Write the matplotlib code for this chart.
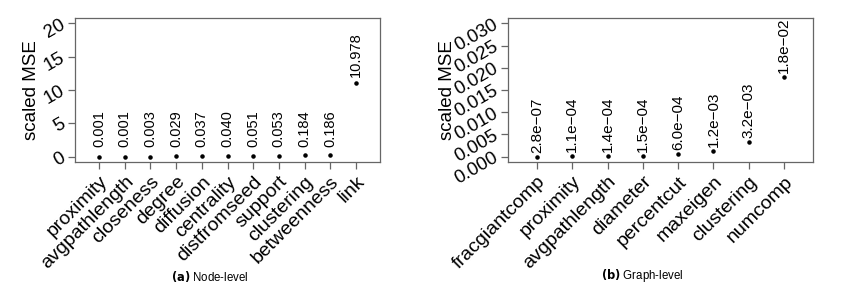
import numpy as np
import matplotlib.pyplot as plt

plt.rcParams['font.family'] = ['Liberation Sans', 'DejaVu Sans']

# Node-level data
node_names = ["proximity", "avgpathlength", "closeness", "degree", "diffusion",
              "centrality", "distfromseed", "support", "clustering",
              "betweenness", "link"]
node_mse = [0.001, 0.001, 0.003, 0.029, 0.037, 0.040, 0.051, 0.053,
            0.184, 0.186, 10.978]
node_labels = ["0.001", "0.001", "0.003", "0.029", "0.037", "0.040", "0.051",
               "0.053", "0.184", "0.186", "10.978"]
node_yticks = [0, 5, 10, 15, 20]

# Graph-level data
graph_names = ["fracgiantcomp", "proximity", "avgpathlength", "diameter",
               "percentcut", "maxeigen", "clustering", "numcomp"]
graph_mse = [2.8e-07, 1.1e-04, 1.4e-04, 1.5e-04, 6.0e-04, 1.2e-03, 3.2e-03, 1.8e-02]
graph_labels = ["2.8e\u221207", "1.1e\u221204", "1.4e\u221204", "1.5e\u221204",
                "6.0e\u221204", "1.2e\u221203", "3.2e\u221203", "1.8e\u221202"]
graph_yticks = [0.000, 0.005, 0.010, 0.015, 0.020, 0.025, 0.030]

fig = plt.figure(figsize=(8.53, 2.88), dpi=100)
W, H = 853, 288
ax1 = fig.add_axes([75 / W, 1 - 162 / H, 305 / W, 144 / H])
ax2 = fig.add_axes([508 / W, 1 - 162 / H, 305 / W, 144 / H])

edge = "#666666"


def setup(ax, names, yticks, ylabels):
    n = len(names)
    x = np.arange(1, n + 1)
    lo, hi = 0.5, n + 0.5
    pad = (hi - lo) * 0.04
    ax.set_xlim(lo - pad, hi + pad)
    yr = yticks[-1] - yticks[0]
    ax.set_ylim(yticks[0] - yr * 0.04, yticks[-1] + yr * 0.04)
    for s in ax.spines.values():
        s.set_color(edge)
        s.set_linewidth(0.9)
    ax.set_xticks(x)
    ax.set_xticklabels(names, rotation=45, ha="right", va="top",
                       rotation_mode="anchor", fontsize=14)
    ax.set_yticks(yticks)
    ax.set_yticklabels(ylabels, rotation=30, ha="right", va="center",
                       rotation_mode="anchor", fontsize=13.5)
    ax.tick_params(axis="both", color=edge, length=5, width=0.9, pad=3)
    ax.set_ylabel("scaled MSE", fontsize=13.5, labelpad=1)
    return x


x1 = setup(ax1, node_names, node_yticks, [str(v) for v in node_yticks])
ax1.scatter(x1, node_mse, s=5, color="black", zorder=3)
for xi, v, lab in zip(x1, node_mse, node_labels):
    ax1.text(xi, max(v + 0.9, 1.5), lab, rotation=90, ha="center", va="bottom",
             fontsize=10.5)

x2 = setup(ax2, graph_names, graph_yticks, ["%.3f" % v for v in graph_yticks])
ax2.scatter(x2, graph_mse, s=5, color="black", zorder=3)
for xi, v, lab in zip(x2, graph_mse, graph_labels):
    ax2.annotate(lab, (xi, v), xytext=(0, 4), textcoords="offset pixels",
                 rotation=90, ha="center", va="bottom", fontsize=11)
ax2.yaxis.set_label_coords(-0.17, 0.5)

fig.text(210 / W, 1 - 276 / H, r"$\bf{(a)}$ Node-level", ha="center",
         va="center", fontsize=8.3)
fig.text(642 / W, 1 - 276 / H, r"$\bf{(b)}$ Graph-level", ha="center",
         va="center", fontsize=8.3)

fig.savefig("out.png", dpi=100)
